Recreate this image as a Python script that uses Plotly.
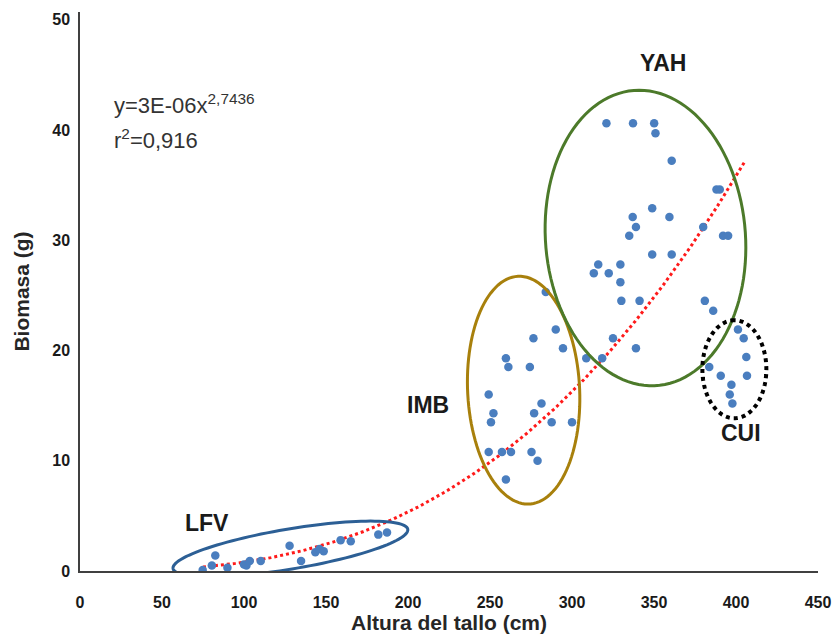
import numpy as np
import plotly.graph_objects as go

# ---- data ----
lfv_x = [74.8, 80.4, 82.5, 89.9, 100.0, 101.5, 103.5, 110.2, 127.8, 134.8, 143.5, 146.0, 148.6, 158.9, 165.1, 181.9, 187.2]
lfv_y = [0.1, 0.5, 1.4, 0.3, 0.6, 0.5, 0.9, 0.9, 2.3, 0.9, 1.7, 2.0, 1.8, 2.8, 2.7, 3.3, 3.5]

imb_x = [284.0, 290.1, 276.5, 294.5, 308.7, 259.7, 261.2, 274.3, 249.2, 281.4, 252.1, 276.9, 250.6, 287.6, 300.0,
         249.2, 257.3, 262.8, 275.3, 279.0, 259.7]
imb_y = [25.3, 21.9, 21.1, 20.2, 19.3, 19.3, 18.5, 18.5, 16.0, 15.2, 14.3, 14.3, 13.5, 13.5, 13.5,
         10.8, 10.8, 10.8, 10.8, 10.0, 8.3]

yah_x = [321.0, 337.2, 350.1, 350.9, 360.8, 388.1, 390.1, 348.9, 337.0, 359.4, 339.0, 380.0, 334.9, 392.1, 395.2,
         348.9, 360.8, 316.0, 329.5, 313.3, 322.4, 329.5, 330.1, 341.2, 381.0, 386.1, 325.0, 339.0, 318.4]
yah_y = [40.6, 40.6, 40.6, 39.7, 37.2, 34.6, 34.6, 32.9, 32.1, 32.1, 31.2, 31.2, 30.4, 30.4, 30.4,
         28.7, 28.7, 27.8, 27.8, 27.0, 27.0, 26.2, 24.5, 24.5, 24.5, 23.6, 21.1, 20.2, 19.3]

cui_x = [401.2, 404.7, 406.3, 383.7, 390.7, 406.7, 397.2, 396.2, 397.8]
cui_y = [21.9, 21.1, 19.4, 18.5, 17.7, 17.7, 16.9, 16.0, 15.2]

x_ticks = [0, 50, 100, 150, 200, 250, 300, 350, 400, 450]
y_ticks = [0, 10, 20, 30, 40, 50]

trend_a = 2.6e-6
trend_b = 2.7436
trend_range = (75, 405)

# ---- layout geometry (page body margin removed via post_script) ----
W, H = 834, 637
ML, MR, MT, MB = 80, 16, 12, 66
XR = (0, 450)
YR = (0, 50.7)
pw = W - ML - MR
ph = H - MT - MB
sx = pw / (XR[1] - XR[0])   # px per x unit
sy = ph / (YR[1] - YR[0])   # px per y unit


def ellipse_path(cx, cy, a_px, b_px, ang_deg, n=120):
    """Ellipse defined in pixel space around a data-space center, returned as data-space SVG path."""
    t = np.linspace(0, 2 * np.pi, n)
    th = np.deg2rad(ang_deg)
    dx = a_px * np.cos(t) * np.cos(th) - b_px * np.sin(t) * np.sin(th)
    dy = a_px * np.cos(t) * np.sin(th) + b_px * np.sin(t) * np.cos(th)
    xs = cx + dx / sx
    ys = cy + dy / sy
    p = "M %.4f,%.4f " % (xs[0], ys[0]) + " ".join("L %.4f,%.4f" % (a, b) for a, b in zip(xs[1:], ys[1:])) + " Z"
    return p


def paper_x(page_px):
    return (page_px - ML) / pw


def paper_y(page_py):
    return (H - MB - page_py) / ph


all_x = lfv_x + imb_x + yah_x + cui_x
all_y = lfv_y + imb_y + yah_y + cui_y

fig = go.Figure()

tx = np.linspace(trend_range[0], trend_range[1], 200)
fig.add_trace(go.Scatter(x=tx, y=trend_a * tx ** trend_b, mode="lines",
                         line=dict(color="#FF1A1A", width=3, dash="dot"), hoverinfo="skip"))

fig.add_trace(go.Scatter(x=all_x, y=all_y, mode="markers",
                         marker=dict(color="#4A7EBF", size=8.5, line=dict(width=0))))

blue_c = "#2C5F95"
gold_c = "#A8800C"
green_c = "#4C7A2A"

shapes = [
    dict(type="path", xref="x", yref="y", path=ellipse_path(128.3, 2.0, 119, 20, 9.5),
         line=dict(color=blue_c, width=3)),
    dict(type="path", xref="x", yref="y", path=ellipse_path(270.5, 16.4, 114, 56, 92.8),
         line=dict(color=gold_c, width=3)),
    dict(type="path", xref="x", yref="y", path=ellipse_path(344.8, 30.2, 148, 100, 94.5),
         line=dict(color=green_c, width=3)),
    dict(type="path", xref="x", yref="y", path=ellipse_path(399.0, 18.3, 49, 32, 90),
         line=dict(color="#000000", width=4, dash="dot")),
]

FAM = "Liberation Sans, Arial, sans-serif"
lab_font = dict(family=FAM, size=23, color="#1a1a1a")
eq_font = dict(family=FAM, size=22, color="#333333")
annotations = [
    dict(x=355.4, y=46.1, text="<b>YAH</b>", showarrow=False, font=lab_font),
    dict(x=212.3, y=15.05, text="<b>IMB</b>", showarrow=False, font=lab_font),
    dict(x=403.3, y=12.5, text="<b>CUI</b>", showarrow=False, font=lab_font),
    dict(x=77.6, y=4.35, text="<b>LFV</b>", showarrow=False, font=lab_font),
    dict(xref="paper", yref="paper", x=paper_x(112), y=paper_y(104), xanchor="left", yanchor="middle",
         text="y=3E-06x<sup>2,7436</sup>", showarrow=False, font=eq_font),
    dict(xref="paper", yref="paper", x=paper_x(112), y=paper_y(139), xanchor="left", yanchor="middle",
         text="r<sup>2</sup>=0,916", showarrow=False, font=eq_font),
]

tick_font = dict(family=FAM, size=16, color="#1a1a1a")
title_font = dict(family=FAM, size=21, color="#262626")

fig.update_layout(
    width=W, height=H,
    margin=dict(l=ML, r=MR, t=MT, b=MB, autoexpand=False),
    paper_bgcolor="white", plot_bgcolor="white",
    showlegend=False,
    shapes=shapes,
    annotations=annotations,
    xaxis=dict(range=list(XR), tickvals=x_ticks, ticktext=["<b>%d</b>" % v for v in x_ticks],
               showgrid=False, zeroline=False, showline=True, linecolor="#404040", linewidth=1.5,
               ticks="", tickfont=tick_font, ticklabelstandoff=16, automargin=False,
               title=dict(text="<b>Altura del tallo (cm)</b>", font=title_font, standoff=2)),
    yaxis=dict(range=list(YR), tickvals=y_ticks, ticktext=["<b>%d</b>" % v for v in y_ticks],
               showgrid=False, zeroline=False, showline=True, linecolor="#404040", linewidth=1.5,
               ticks="", tickfont=tick_font, ticklabelstandoff=5, automargin=False,
               title=dict(text="<b>Biomasa (g)</b>", font=title_font, standoff=17)),
)

fig.write_html("out.html", config={"displayModeBar": False},
               post_script="document.body.style.margin='0px';document.body.style.overflow='hidden';")
